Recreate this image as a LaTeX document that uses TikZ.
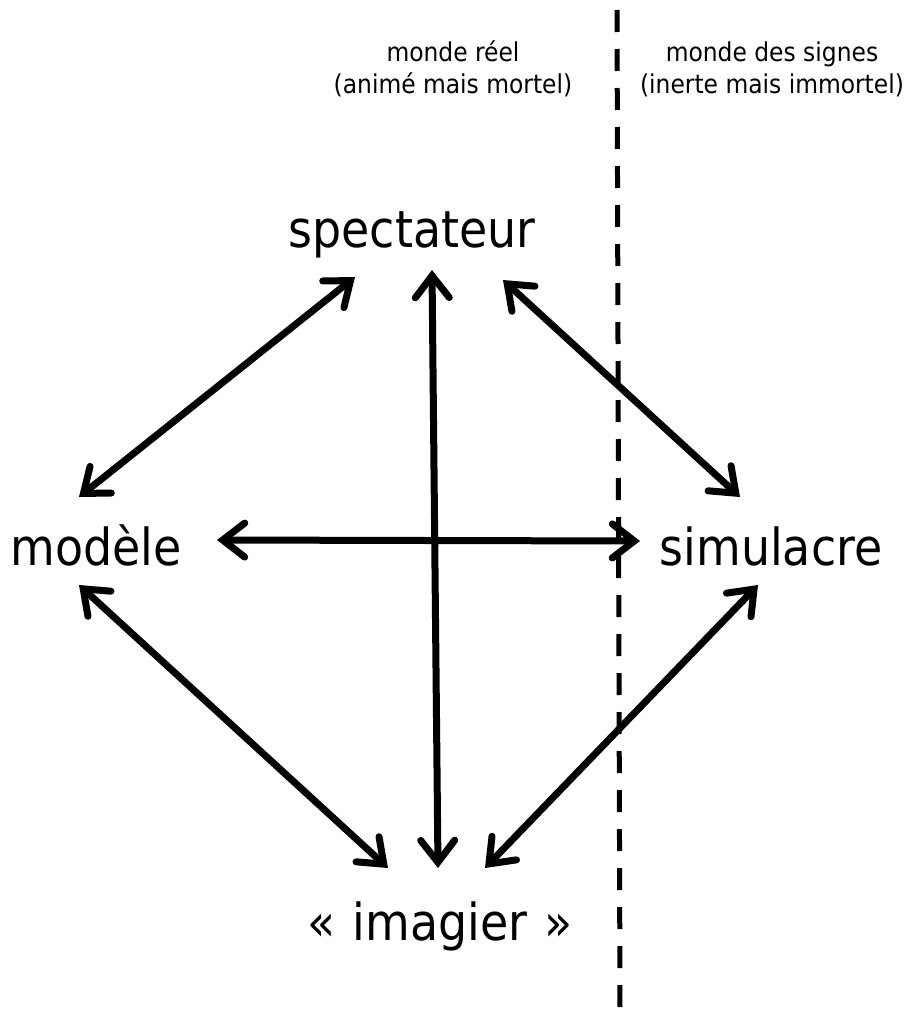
\documentclass[tikz,border=0pt]{standalone}
\usepackage{fontspec}
\setmainfont{DejaVu Sans Condensed}
\usetikzlibrary{arrows.meta,calc}
\tikzset{
  big/.style={font=\fontsize{51}{57}\selectfont, anchor=base, inner sep=0pt},
  small/.style={font=\fontsize{26}{32}\selectfont, align=center, anchor=base, inner sep=0pt},
  barb/.tip={Straight Barb[length=22pt,width=34pt,line cap=round,line join=miter]},
  arr/.style={line width=7pt, barb-barb},
  divider/.style={line width=5pt, dash pattern=on 22pt off 17pt}
}
\begin{document}
\begin{tikzpicture}[x=1pt,y=-1pt]
\useasboundingbox (0,0) rectangle (910,1009);
\node[small] (reel) at (453,93) {monde réel\\(animé mais mortel)};
\node[small] (signes) at (772,93) {monde des signes\\(inerte mais immortel)};
\coordinate (dtop) at (617,10);
\coordinate (dbot) at (620,1009);
\draw[divider] (dtop) -- (dbot);
\node[big] (spec) at (412,247) {spectateur};
\node[big] (mod) at (96,565) {modèle};
\node[big] (sim) at (771,565) {simulacre};
\node[big] (ima) at (440,940) {«\hspace{0.05em} imagier \hspace{0.05em}»};
\draw[arr] ($(spec.base)+(-57,30)$) -- ($(mod.base)+(-17,-68)$);
\draw[arr] ($(spec.base)+(20,23)$) -- ($(ima.base)+(-2,-72)$);
\draw[arr] ($(spec.base)+(91,33)$) -- ($(sim.base)+(-31,-68)$);
\draw[arr] ($(mod.base)+(121,-25)$) -- ($(sim.base)+(-131,-24)$);
\draw[arr] ($(mod.base)+(-17,20)$) -- ($(ima.base)+(-52,-72)$);
\draw[arr] ($(sim.base)+(-13,20)$) -- ($(ima.base)+(45,-72)$);
\end{tikzpicture}
\end{document}
